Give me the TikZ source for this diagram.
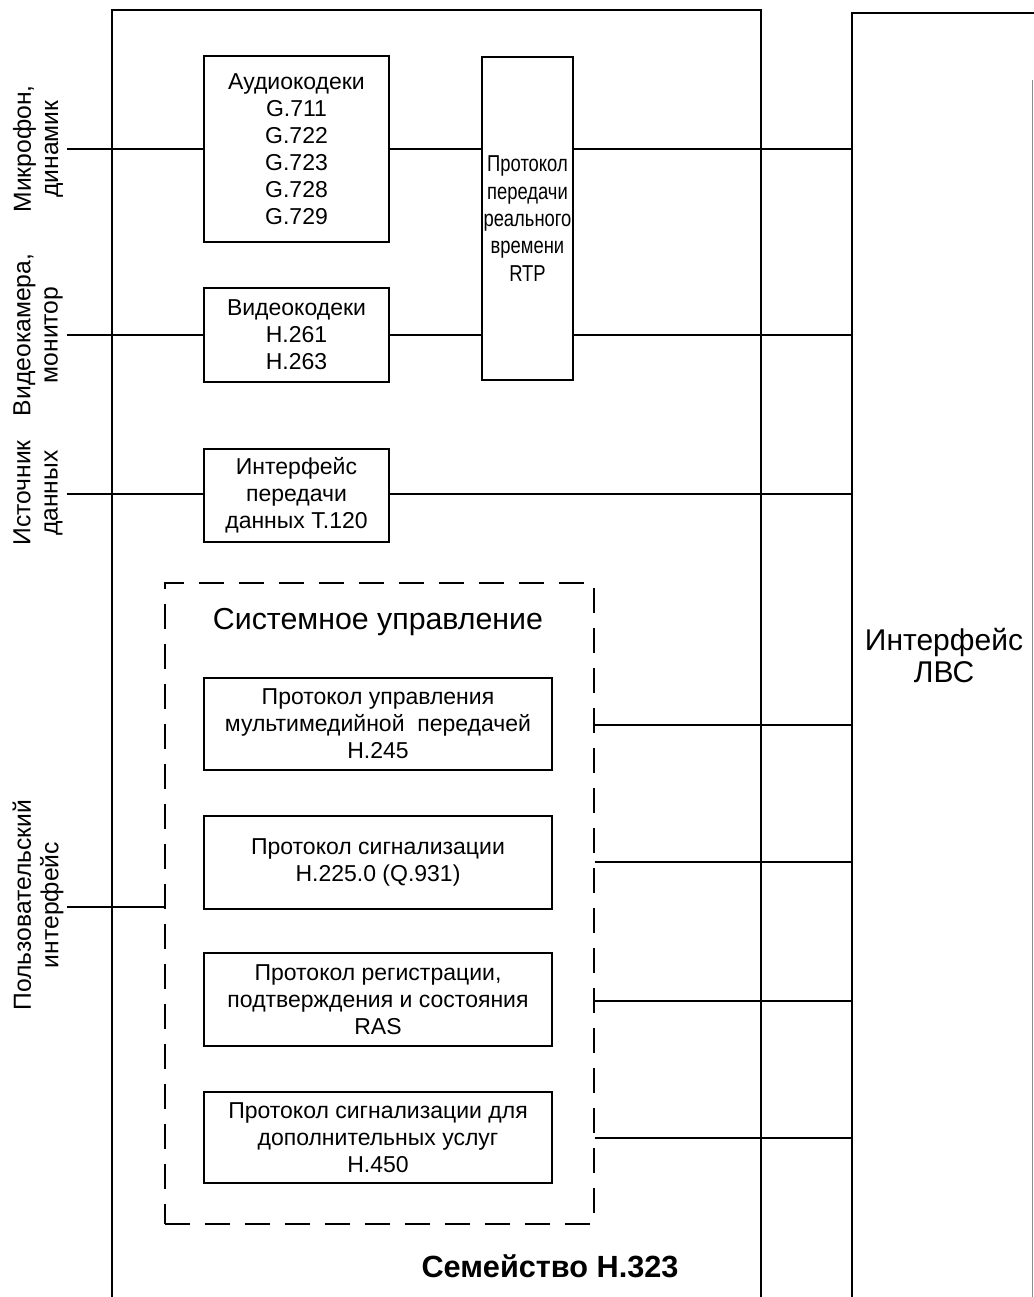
\documentclass[tikz,border=0pt]{standalone}
\usepackage{fontspec}
\setmainfont{Liberation Sans}
\begin{document}
\begin{tikzpicture}[x=0.75pt,y=-0.75pt,
  wire/.style={line width=1.5pt},
  frame/.style={line width=1.5pt},
  blk/.style={draw,line width=1.4pt,inner sep=0pt,align=center,
    font=\fontsize{17.25pt}{20.25pt}\selectfont},
  side/.style={rotate=90,align=center,inner sep=0pt,
    font=\fontsize{18.5pt}{20.5pt}\selectfont},
  grp/.style={draw,line width=1.3pt,dash pattern=on 19pt off 11pt,inner sep=0pt}
]
\useasboundingbox (0,0) rectangle (1034,1297);

% outer frames (open at the bottom)
\draw[frame] (112,1297) -- (112,10) -- (761,10) -- (761,1297);
\draw[frame] (852,1297) -- (852,13) -- (1034,13);
\draw[line width=0.6pt,black!45] (1032,80) -- (1032,1297);
\coordinate (lanedge) at (852,0);

% media blocks
\node[blk,minimum width=139pt,minimum height=139.5pt] (audio) at (296.5,149)
  {Аудиокодеки\\G.711\\G.722\\G.723\\G.728\\G.729};
\node[blk,minimum width=139pt,minimum height=70pt] (video) at (296.5,335)
  {Видеокодеки\\H.261\\H.263};
\node[blk,minimum width=139pt,minimum height=70pt] (t120) at (296.5,495.5)
  {Интерфейс\\передачи\\данных T.120};
\node[blk,minimum width=68pt,minimum height=242pt,
  font=\fontsize{17.25pt}{20.5pt}\selectfont\addfontfeature{FakeStretch=0.8}] (rtp) at (527.5,218.5)
  {Протокол\\передачи\\реального\\времени\\RTP};

% system control group
\node[grp,minimum width=321.75pt,minimum height=480.75pt] (sys) at (379.5,903.5) {};
\node[font=\fontsize{22.75pt}{26pt}\selectfont] (systitle) at (378,622)
  {Системное управление};
\node[blk,minimum width=261pt,minimum height=69pt] (h245) at (378,724)
  {Протокол управления\\мультимедийной\ \ передачей\\H.245};
\node[blk,minimum width=261pt,minimum height=70pt] (h225) at (378,862.5)
  {Протокол сигнализации\\H.225.0 (Q.931)};
\node[blk,minimum width=261pt,minimum height=70pt] (ras) at (378,999.5)
  {Протокол регистрации,\\подтверждения и состояния\\RAS};
\node[blk,minimum width=261pt,minimum height=68pt] (h450) at (378,1137.5)
  {Протокол сигнализации для\\дополнительных услуг\\H.450};

% captions
\node[font=\fontsize{23pt}{27pt}\selectfont\bfseries] (family) at (550,1266)
  {Семейство H.323};
\node[align=center,font=\fontsize{22.5pt}{24pt}\selectfont] (lan) at (944,656)
  {Интерфейс\\ЛВС};

% external side labels
\node[side] (mic) at (38,149) {Микрофон,\\динамик};
\node[side] (cam) at (38,335) {Видеокамера,\\монитор};
\node[side] (src) at (38,493) {Источник\\данных};
\node[side] (usr) at (38,905) {Пользовательский\\интерфейс};

\coordinate (micend) at (67,149);
\coordinate (camend) at (67,335);
\coordinate (srcend) at (67,494);
\coordinate (usrend) at (67,907);
\coordinate (c245) at (0,725);
\coordinate (c225) at (0,862);
\coordinate (cras) at (0,1001);
\coordinate (c450) at (0,1138);

% connectors
\draw[wire] (micend) -- (audio.west |- micend);
\draw[wire] (camend) -- (video.west |- camend);
\draw[wire] (srcend) -- (t120.west |- srcend);
\draw[wire] (usrend) -- (sys.west |- usrend);

\draw[wire] (audio.east |- micend) -- (rtp.west |- micend);
\draw[wire] (video.east |- camend) -- (rtp.west |- camend);
\draw[wire] (rtp.east |- micend) -- (lanedge |- micend);
\draw[wire] (rtp.east |- camend) -- (lanedge |- camend);
\draw[wire] (t120.east |- srcend) -- (lanedge |- srcend);

\draw[wire] (sys.east |- c245) -- (lanedge |- c245);
\draw[wire] (sys.east |- c225) -- (lanedge |- c225);
\draw[wire] (sys.east |- cras) -- (lanedge |- cras);
\draw[wire] (sys.east |- c450) -- (lanedge |- c450);
\end{tikzpicture}
\end{document}
